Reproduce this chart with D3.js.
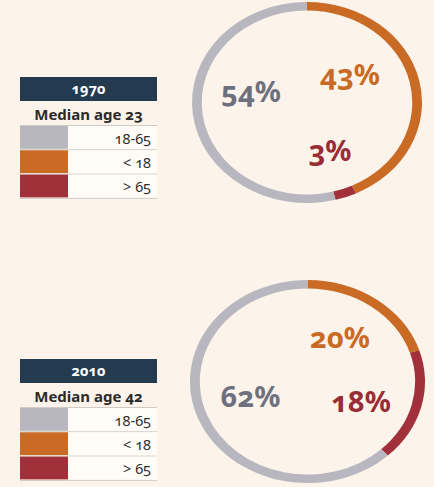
<!DOCTYPE html>
<html>
<head>
<meta charset="utf-8">
<script src="https://cdn.jsdelivr.net/npm/d3@7"></script>
<style>
  html, body { margin: 0; padding: 0; background: #fcf4eb; }
  svg { display: block; }
  text { font-family: "Noto Sans", "Open Sans", sans-serif; font-variant-numeric: oldstyle-nums; font-feature-settings: "onum" 1; }
</style>
</head>
<body>
<svg id="chart" width="434" height="487"></svg>
<script>
// ---- data ----
const years = ["1970", "2010"];
const medianAges = [23, 42];
const categories = ["18-65", "< 18", "> 65"];
const values1970 = [54, 43, 3];
const values2010 = [62, 20, 18];
// order the ring is drawn clockwise from 12 o'clock
const ringOrder = ["< 18", "> 65", "18-65"];

// ---- styles / layout ----
const colors = { "18-65": "#b8b7bf", "< 18": "#c96a25", "> 65": "#a1303b" };
const labelColors = { "18-65": "#6e707e", "< 18": "#c96a25", "> 65": "#9a2c36" };
const panels = [
  { cx: 307, cy: 102.5, rx: 115, ry: 100.5, legendTop: 77,
    labels: { "18-65": [-56, -0.5], "< 18": [43, -17.5], "> 65": [23, 58.5] } },
  { cx: 307.5, cy: 381.5, rx: 117.5, ry: 101.5, legendTop: 359,
    labels: { "18-65": [-57, 25.5], "< 18": [32.5, -33.5], "> 65": [53.5, 30.5] } }
];
const valueSets = [values1970, values2010];

const svg = d3.select("#chart");
svg.append("rect").attr("width", 434).attr("height", 487).attr("fill", "#fcf4eb");

const pie = d3.pie().sort(null).value(d => d.value);

panels.forEach((p, i) => {
  const vals = valueSets[i];
  const data = ringOrder.map(c => ({ cat: c, value: vals[categories.indexOf(c)] }));
  const thickness = 8.5;
  const arc = d3.arc().innerRadius(p.ry - thickness).outerRadius(p.ry);
  const g = svg.append("g")
    .attr("transform", `translate(${p.cx},${p.cy}) scale(${p.rx / p.ry},1)`);
  g.selectAll("path").data(pie(data)).join("path")
    .attr("d", arc)
    .attr("fill", d => colors[d.data.cat]);

  const lg = svg.append("g").attr("transform", `translate(${p.cx},${p.cy})`);
  data.forEach(d => {
    const pos = p.labels[d.cat];
    lg.append("text")
      .attr("x", pos[0]).attr("y", pos[1])
      .attr("text-anchor", "middle")
      .attr("font-size", 29)
      .attr("font-weight", 700)
      .attr("fill", labelColors[d.cat])
      .text(d.value + "%");
  });

  // legend
  const L = svg.append("g").attr("transform", `translate(20,${p.legendTop})`);
  const W = 137;
  L.append("rect").attr("width", W).attr("height", 24).attr("fill", "#243a4f");
  L.append("text").attr("x", W / 2).attr("y", 17).attr("text-anchor", "middle")
    .attr("font-size", 14.5).attr("font-weight", 700).attr("fill", "#ffffff")
    .text(years[i]);
  L.append("text").attr("x", W / 2).attr("y", 43).attr("text-anchor", "middle")
    .attr("font-size", 15).attr("font-weight", 700).attr("fill", "#2b2b2b")
    .text("Median age " + medianAges[i]);
  const rowTop = 49, rowH = 24.3, sw = 48;
  categories.forEach((c, k) => {
    const y = rowTop + k * rowH;
    L.append("rect").attr("x", sw).attr("y", y).attr("width", W - sw).attr("height", rowH)
      .attr("fill", "#fffcf8");
    L.append("rect").attr("x", 0).attr("y", y).attr("width", sw).attr("height", rowH - 1.5)
      .attr("fill", colors[c]);
    L.append("line").attr("x1", 0).attr("x2", W).attr("y1", y + rowH - 0.5).attr("y2", y + rowH - 0.5)
      .attr("stroke", "#cfcac3").attr("stroke-width", 1);
    L.append("text").attr("x", W - 6).attr("y", y + 17.5).attr("text-anchor", "end")
      .attr("font-size", 14.5).attr("fill", "#2e2e2e")
      .text(c);
  });
  L.append("line").attr("x1", 0).attr("x2", W).attr("y1", rowTop - 0.5).attr("y2", rowTop - 0.5)
    .attr("stroke", "#cfcac3").attr("stroke-width", 1);
});
</script>
</body>
</html>
